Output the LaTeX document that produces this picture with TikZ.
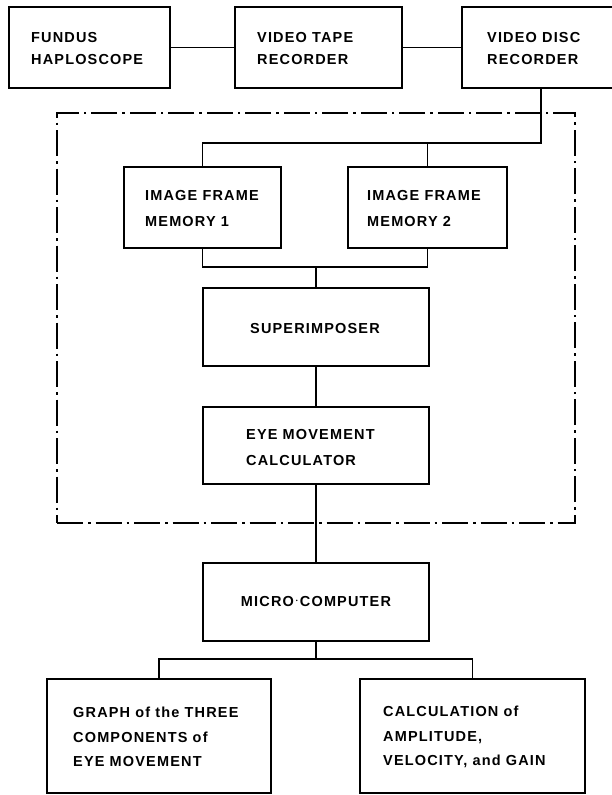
\documentclass[tikz,border=0pt]{standalone}
\usepackage{fontspec}
\setmainfont{Liberation Sans}[LetterSpace=8]
\begin{document}
\begin{tikzpicture}[x=1pt,y=-1pt,
  box/.style={draw, line width=1.4pt, inner sep=0pt},
  txt/.style={anchor=west, align=left, inner sep=0pt, font=\fontsize{14.5pt}{22pt}\selectfont\bfseries},
  txtc/.style={anchor=center, align=center, inner sep=0pt, font=\fontsize{14.5pt}{22pt}\selectfont\bfseries},
  txtm/.style={txt, font=\fontsize{14.5pt}{26pt}\selectfont\bfseries},
  txtb/.style={txt, font=\fontsize{14.5pt}{24.5pt}\selectfont\bfseries},
  conn/.style={line width=1.2pt},
  dashbox/.style={draw, line width=1.3pt, inner sep=0pt, dash pattern=on 26pt off 5pt on 2.5pt off 5pt}]
\useasboundingbox (0,0) rectangle (611,795);
\fill[white] (0,0) rectangle (611,795);
% top row
\node[box, minimum width=161pt, minimum height=81pt] (fh) at (89.5,47.5) {};
\node[txt] (fht) at (31,48.5) {FUNDUS\\HAPLOSCOPE};
\node[box, minimum width=167pt, minimum height=81pt] (vt) at (318.5,47.5) {};
\node[txt] (vtt) at (257,48.5) {VIDEO TAPE\\RECORDER};
\node[box, minimum width=170pt, minimum height=81pt] (vd) at (547,47.5) {};
\node[txt] (vdt) at (487,48.5) {VIDEO DISC\\RECORDER};
% dash-dot system box
\node[dashbox, minimum width=518pt, minimum height=410pt] (sys) at (316,318) {};
% memories
\node[box, minimum width=157pt, minimum height=81pt] (m1) at (202.5,207.5) {};
\node[txtm] (m1t) at (145,208.5) {IMAGE FRAME\\MEMORY 1};
\node[box, minimum width=159pt, minimum height=81pt] (m2) at (427.5,207.5) {};
\node[txtm] (m2t) at (367,208.5) {IMAGE FRAME\\MEMORY 2};
% superimposer
\node[box, minimum width=226pt, minimum height=78pt] (sp) at (316,327) {};
\node[txtc] (spt) at (315,329) {SUPERIMPOSER};
% eye movement calculator
\node[box, minimum width=226pt, minimum height=77pt] (ec) at (316,445.5) {};
\node[txtm] (ect) at (246,448) {EYE MOVEMENT\\CALCULATOR};
% micro-computer
\node[box, minimum width=226pt, minimum height=78pt] (mc) at (316,602) {};
\node[txtc] (mct) at (316,602) {MICRO\kern1pt\raisebox{0.3ex}{$\cdot$}\kern1ptCOMPUTER};
% outputs
\node[box, minimum width=224pt, minimum height=114pt] (gr) at (159,736) {};
\node[txtb] (grt) at (73,737) {GRAPH of the THREE\\COMPONENTS of\\EYE MOVEMENT};
\node[box, minimum width=225pt, minimum height=114pt] (ca) at (472.5,736) {};
\node[txtb] (cat) at (383,737) {CALCULATION of\\AMPLITUDE,\\VELOCITY, and GAIN};
% connectors
\draw[conn] (fh.east) -- (vt.west);
\draw[conn] (vt.east) -- (vd.west);
\coordinate (s1) at (541,143);
\draw[conn] (vd.south -| s1) -- (s1) -- (s1 -| m1.north) -- (m1.north);
\draw[conn] (m2.north) -- (m2.north |- s1);
\coordinate (s2) at (316,267);
\draw[conn] (m1.south) -- (m1.south |- s2) -- (m2.south |- s2) -- (m2.south);
\draw[conn] (s2) -- (sp.north);
\draw[conn] (sp.south) -- (ec.north);
\draw[conn] (ec.south) -- (mc.north);
\coordinate (s3) at (316,659);
\draw[conn] (mc.south) -- (s3);
\draw[conn] (gr.north) -- (gr.north |- s3) -- (ca.north |- s3) -- (ca.north);
\end{tikzpicture}
\end{document}
